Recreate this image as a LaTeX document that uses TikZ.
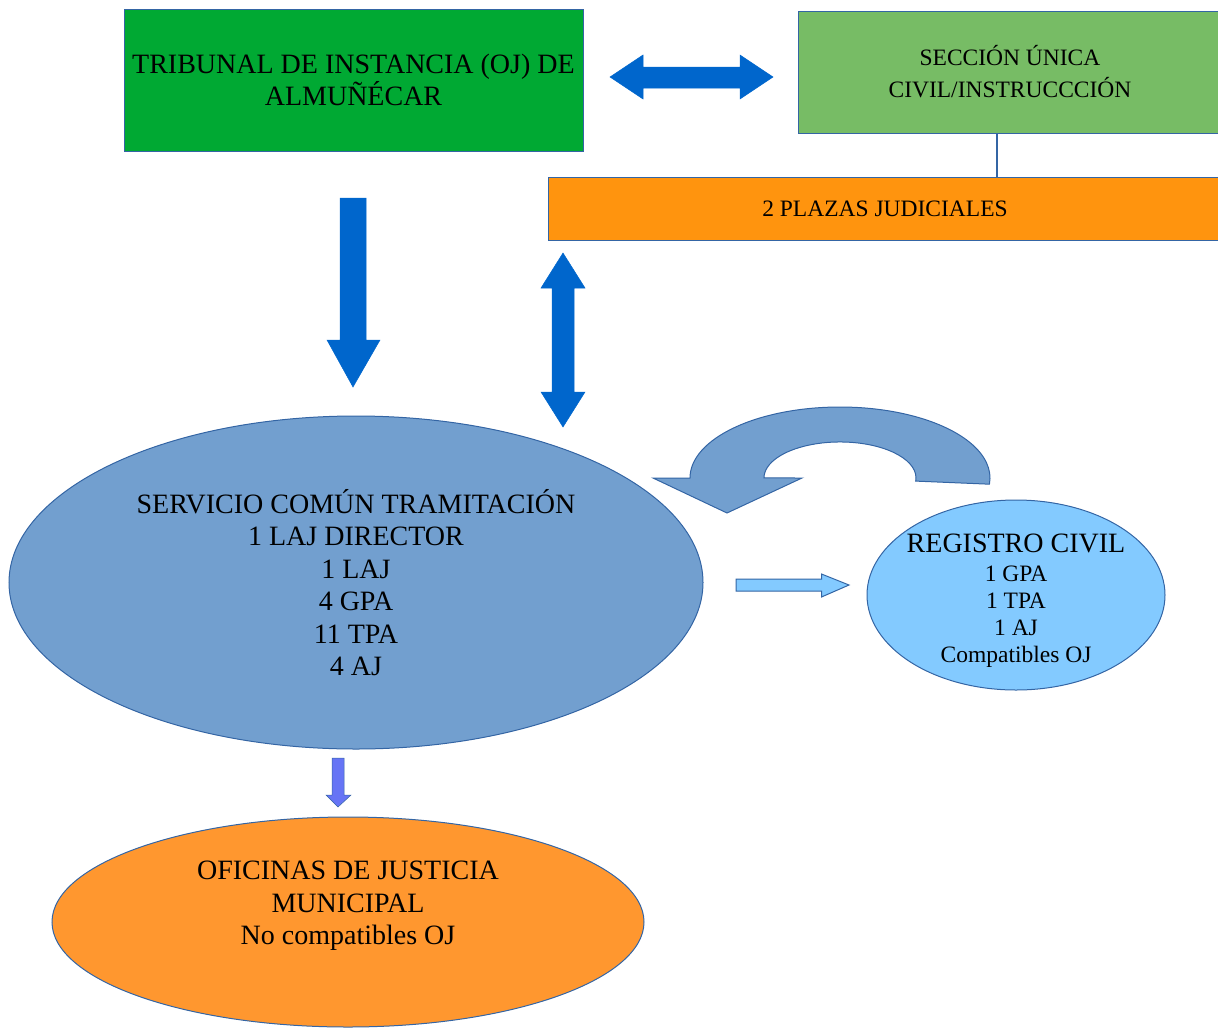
\documentclass[tikz,border=0pt]{standalone}
\usepackage{fontspec}
\setmainfont{Liberation Serif}
\usetikzlibrary{shapes.geometric}

\definecolor{edgeblue}{HTML}{3465A4}
\definecolor{ojgreen}{HTML}{00A933}
\definecolor{lightgreen}{HTML}{77BC65}
\definecolor{barorange}{HTML}{FF940E}
\definecolor{ovalorange}{HTML}{FF972F}
\definecolor{arrowblue}{HTML}{0066CC}
\definecolor{servblue}{HTML}{729FCF}
\definecolor{regblue}{HTML}{83CAFF}
\definecolor{violetblue}{HTML}{6674F5}

\tikzset{
  box/.style={draw=edgeblue, line width=1pt, inner sep=0pt, align=center},
  oval/.style={ellipse, draw=edgeblue, line width=1pt, inner sep=0pt, align=center},
  bigfont/.style={font=\fontsize{28}{32.5}\selectfont},
  midfont/.style={font=\fontsize{23.5}{32}\selectfont},
  blockarrow/.style={fill=arrowblue, draw=arrowblue, line width=0.5pt, line join=miter},
}

\begin{document}
\begin{tikzpicture}[x=1pt,y=-1pt]
  \useasboundingbox (0,0) rectangle (1218,1028);
  \clip (0,0) rectangle (1218,1028);
  % top row
  \node[box, fill=ojgreen, minimum width=459, minimum height=142, bigfont]
    (tribunal) at (353.5,80) {TRIBUNAL DE INSTANCIA (OJ) DE\\ALMUÑÉCAR};
  \node[box, fill=lightgreen, minimum width=424, minimum height=122, midfont]
    (seccion) at (1010,72) {SECCIÓN ÚNICA\\CIVIL/INSTRUCCCIÓN};
  \node[box, fill=barorange, minimum width=674, minimum height=63, midfont]
    (plazas) at (885,208.5) {2 PLAZAS JUDICIALES};
  % link seccion -> plazas
  \coordinate (link) at (997,0);
  \draw[edgeblue, line width=1.5pt] (seccion.south -| link) -- (plazas.north -| link);
  % double arrow tribunal <-> seccion
  \draw[blockarrow] (610,77) -- (643,55) -- (643,67) -- (740,67) -- (740,55)
    -- (773,77) -- (740,99) -- (740,88) -- (643,88) -- (643,99) -- cycle;
  % arrow tribunal -> servicio
  \draw[blockarrow] (340,198) -- (366,198) -- (366,340) -- (380,340)
    -- (353,387) -- (327,340) -- (340,340) -- cycle;
  % double arrow plazas <-> servicio
  \draw[blockarrow] (563,253) -- (585,288) -- (574,288) -- (574,392) -- (585,392)
    -- (563,427) -- (541,392) -- (552,392) -- (552,288) -- (541,288) -- cycle;
  % servicio comun
  \node[oval, fill=servblue, minimum width=694, minimum height=333, bigfont]
    (servicio) at (356,582.5) {SERVICIO COMÚN TRAMITACIÓN\\1 LAJ DIRECTOR\\1 LAJ\\4 GPA\\11 TPA\\4 AJ};
  % curved arrow registro -> servicio
  \draw[fill=servblue, draw=edgeblue, line width=1pt, line join=miter]
    (653,478) -- (690,478) arc (180:365:150 and 71) -- (915.7,481.1)
    arc (365:180:76 and 36) -- (802,478) -- (727,513) -- cycle;
  % registro civil
  \node[oval, fill=regblue, minimum width=298, minimum height=190]
    (registro) at (1016,595) {};
  \node[align=center, font=\fontsize{23.5}{27}\selectfont] (regtext) at (1016,600.5)
    {{\fontsize{28}{29}\selectfont REGISTRO CIVIL}\\[2pt]1 GPA\\1 TPA\\1 AJ\\Compatibles OJ};
  % arrow servicio -> registro
  \draw[fill=regblue, draw=edgeblue, line width=1pt, line join=miter]
    (736,579) -- (821.5,579) -- (821.5,574) -- (849,585) -- (821.5,597)
    -- (821.5,591) -- (736,591) -- cycle;
  % arrow servicio -> oficinas
  \draw[fill=violetblue, draw=edgeblue, line width=0.5pt, line join=miter]
    (332,758) -- (344,758) -- (344,795) -- (351,795) -- (338,807)
    -- (326,795) -- (332,795) -- cycle;
  % oficinas de justicia
  \node[oval, fill=ovalorange, minimum width=592, minimum height=210]
    (oficinas) at (348,922) {};
  \node[align=center, bigfont] (oftext) at (348,906)
    {OFICINAS DE JUSTICIA\\MUNICIPAL\\No compatibles OJ};
\end{tikzpicture}
\end{document}
